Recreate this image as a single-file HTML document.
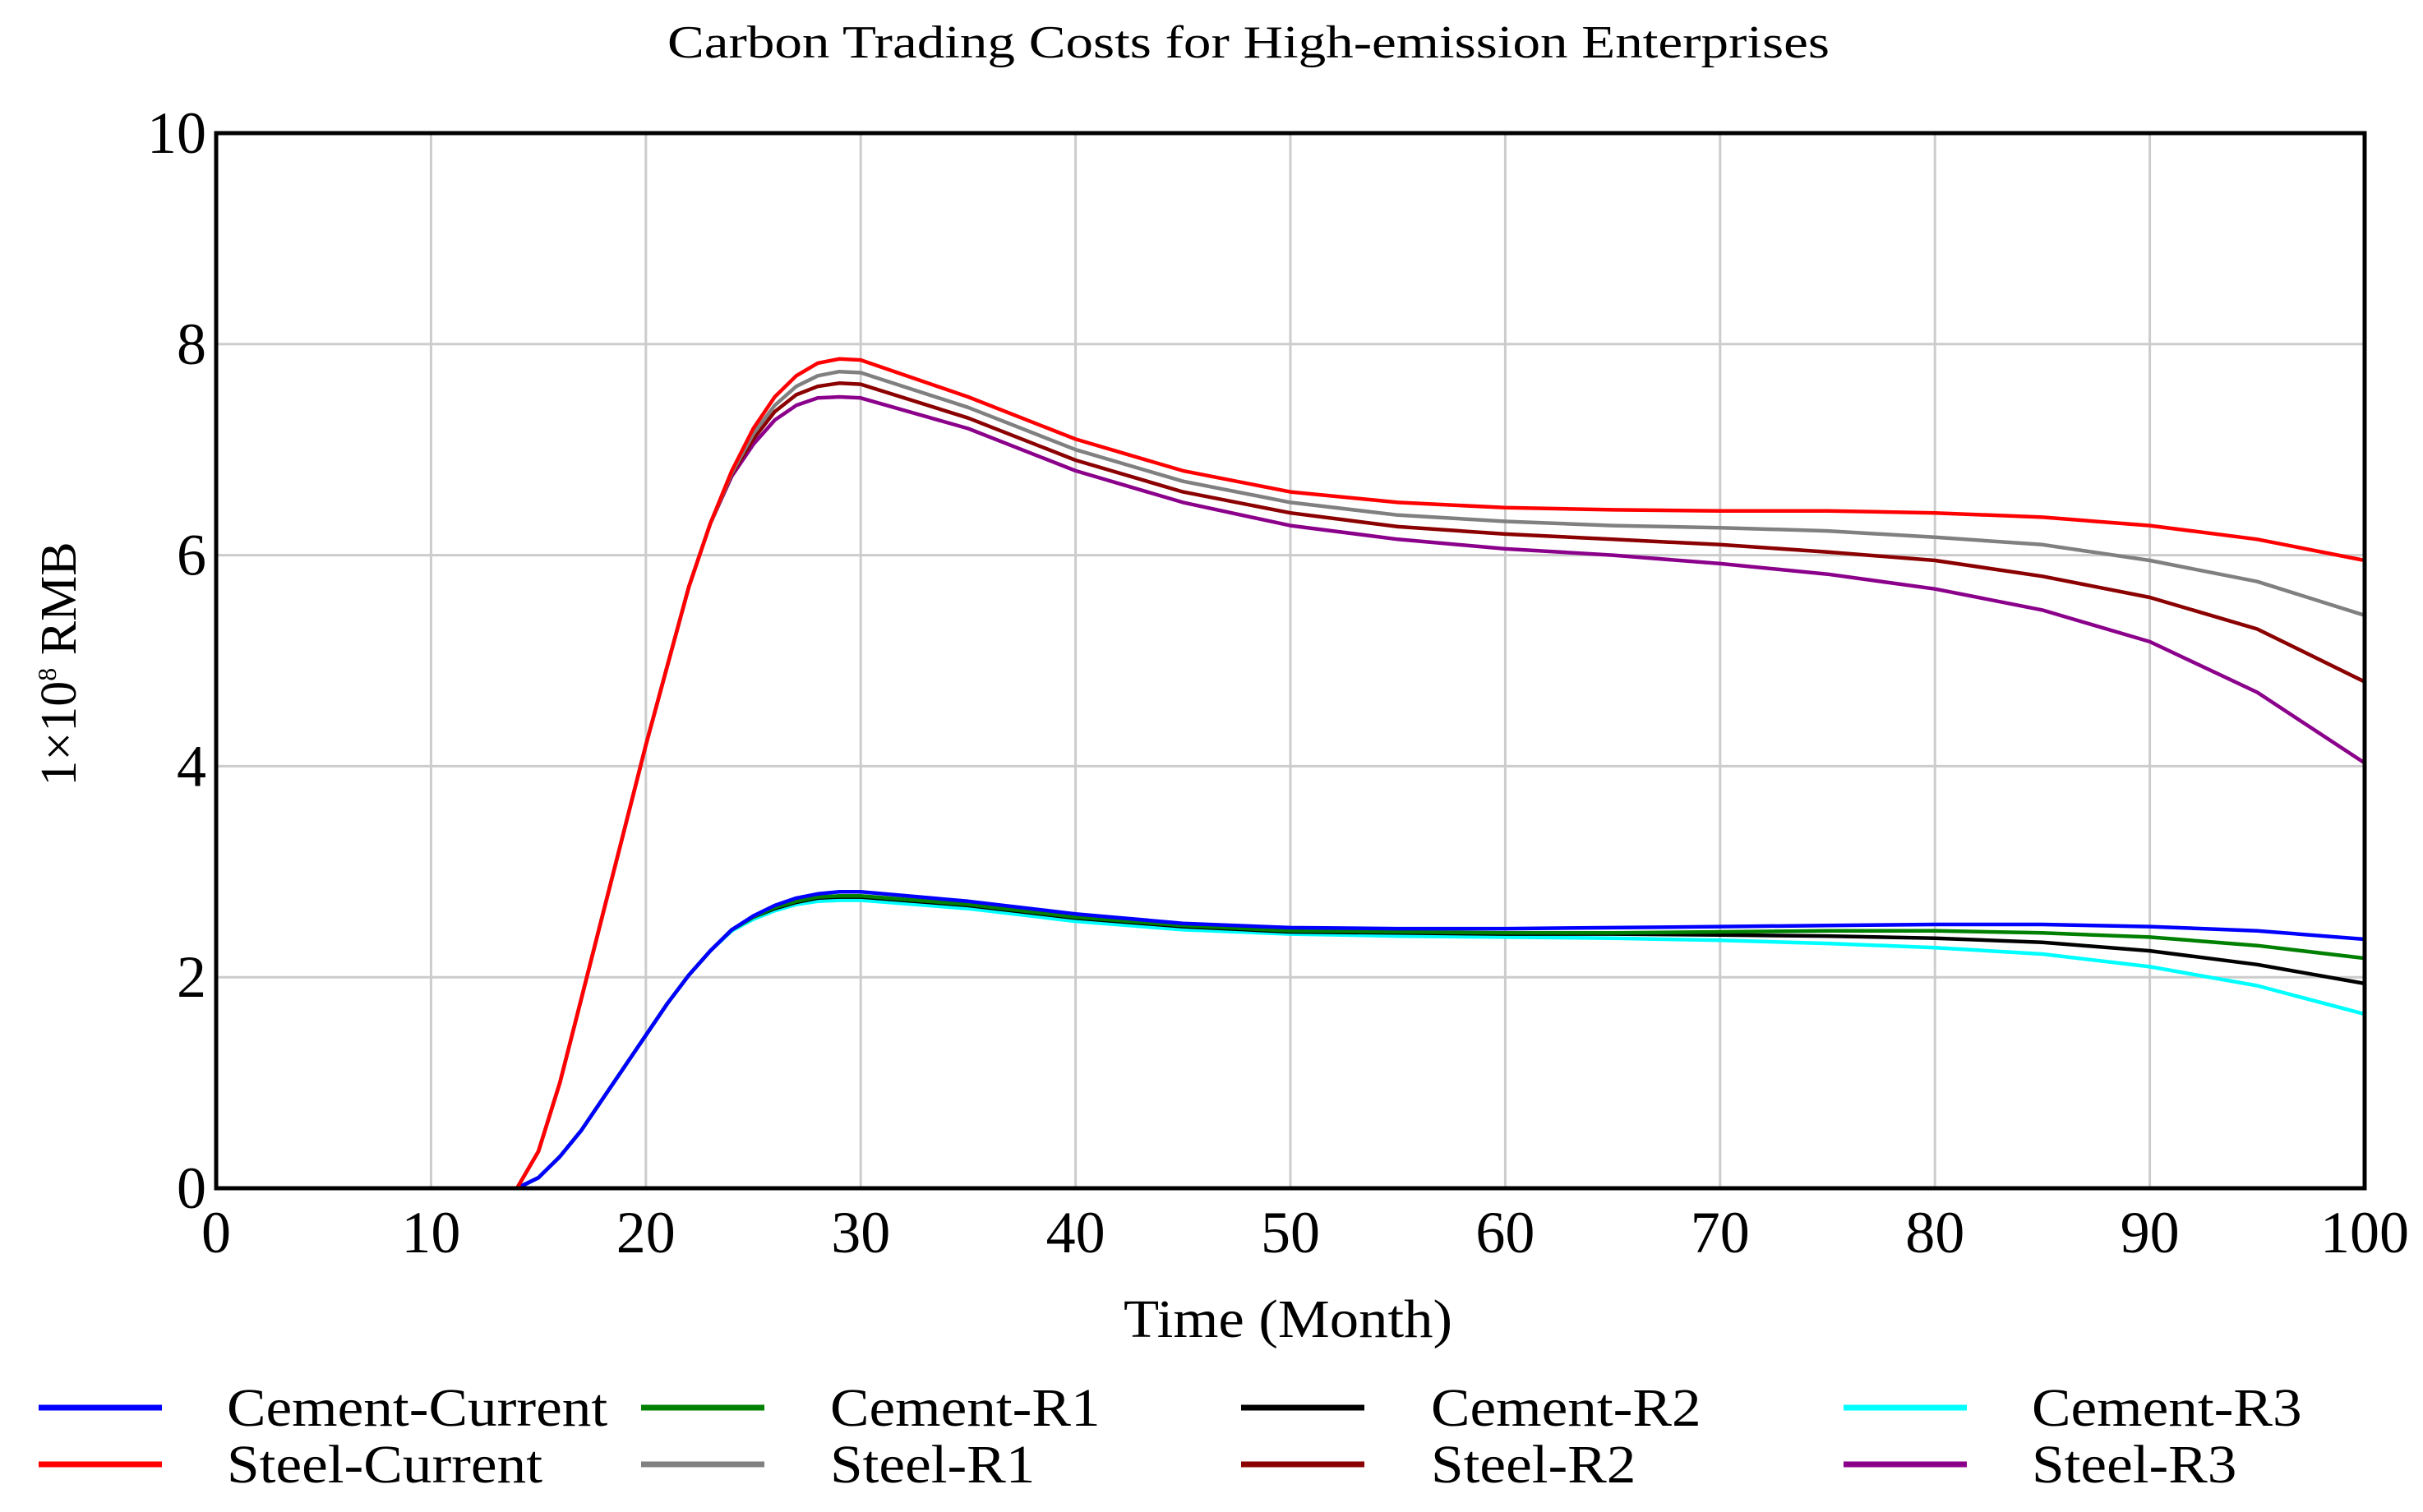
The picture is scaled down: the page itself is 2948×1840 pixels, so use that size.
<!DOCTYPE html>
<html><head><meta charset="utf-8"><style>
html,body{margin:0;padding:0;background:#fff;}
svg{display:block;font-family:"Liberation Serif",serif;}
</style></head><body>
<svg id="chart" width="2948" height="1840" viewBox="0 0 2948 1840" xmlns="http://www.w3.org/2000/svg">
<text x="1519" y="70" font-size="56" text-anchor="middle" textLength="1414" lengthAdjust="spacingAndGlyphs">Carbon Trading Costs for High-emission Enterprises</text>
<g id="grid"></g>
<g id="series"></g>
<rect x="263" y="162" width="2614" height="1284" fill="none" stroke="#000" stroke-width="5"/>
<g id="ticks"></g>
<text x="1567" y="1627" font-size="66" text-anchor="middle" textLength="400" lengthAdjust="spacingAndGlyphs">Time (Month)</text>
<text transform="translate(92,808) rotate(-90)" font-size="62" text-anchor="middle">1×10<tspan font-size="32" dy="-24">8</tspan><tspan dy="24"> RMB</tspan></text>
<g id="legend"></g>
</svg>
<script>
const months = [0,14,15,16,17,18,19,20,21,22,23,24,25,26,27,28,29,30,35,40,45,50,55,60,65,70,75,80,85,90,95,100];
const seriesNames = ["Cement-Current","Cement-R1","Cement-R2","Cement-R3","Steel-Current","Steel-R1","Steel-R2","Steel-R3"];
const seriesColors = ["#0000ff","#008000","#000000","#00ffff","#ff0000","#808080","#8b0000","#8b008b"];
const cementCurrent = [0,0,0.1,0.3,0.55,0.85,1.15,1.45,1.75,2.02,2.25,2.45,2.58,2.68,2.75,2.79,2.81,2.81,2.72,2.6,2.51,2.47,2.46,2.46,2.47,2.48,2.49,2.5,2.5,2.48,2.44,2.36];
const cementR1 = [0,0,0.1,0.3,0.55,0.85,1.15,1.45,1.75,2.02,2.25,2.45,2.57,2.66,2.72,2.76,2.77,2.77,2.69,2.57,2.49,2.44,2.43,2.42,2.42,2.43,2.44,2.44,2.42,2.38,2.3,2.18];
const cementR2 = [0,0,0.1,0.3,0.55,0.85,1.15,1.45,1.75,2.02,2.25,2.45,2.57,2.65,2.71,2.75,2.76,2.76,2.68,2.56,2.48,2.43,2.42,2.41,2.41,2.4,2.39,2.37,2.33,2.25,2.12,1.94];
const cementR3 = [0,0,0.1,0.3,0.55,0.85,1.15,1.45,1.75,2.02,2.25,2.44,2.55,2.63,2.69,2.72,2.73,2.73,2.65,2.53,2.45,2.41,2.39,2.38,2.37,2.35,2.32,2.28,2.22,2.1,1.92,1.65];
const steelCurrent = [0,0,0.35,1.0,1.8,2.6,3.4,4.2,4.95,5.7,6.3,6.8,7.2,7.5,7.7,7.82,7.86,7.85,7.5,7.1,6.8,6.6,6.5,6.45,6.43,6.42,6.42,6.4,6.36,6.28,6.15,5.95];
const steelR1 = [0,0,0.35,1.0,1.8,2.6,3.4,4.2,4.95,5.7,6.3,6.78,7.15,7.42,7.6,7.7,7.74,7.73,7.4,7.0,6.7,6.5,6.38,6.32,6.28,6.26,6.23,6.17,6.1,5.95,5.75,5.43];
const steelR2 = [0,0,0.35,1.0,1.8,2.6,3.4,4.2,4.95,5.7,6.3,6.77,7.1,7.36,7.52,7.6,7.63,7.62,7.3,6.9,6.6,6.4,6.27,6.2,6.15,6.1,6.03,5.95,5.8,5.6,5.3,4.8];
const steelR3 = [0,0,0.35,1.0,1.8,2.6,3.4,4.2,4.95,5.7,6.3,6.75,7.05,7.28,7.42,7.49,7.5,7.49,7.2,6.8,6.5,6.28,6.15,6.06,6.0,5.92,5.82,5.68,5.48,5.18,4.7,4.03];
const allSeries = [cementCurrent,cementR1,cementR2,cementR3,steelCurrent,steelR1,steelR2,steelR3];
const drawOrder = [7,6,5,3,2,1,0,4];
const xTicks = [0,10,20,30,40,50,60,70,80,90,100];
const yTicks = [0,2,4,6,8,10];

const NS="http://www.w3.org/2000/svg";
const L=263,R=2877,T=162,B=1446;
const xs=v=>L+(v/100)*(R-L);
const ys=v=>B-(v/10)*(B-T);
function mk(tag,attrs,parent){const e=document.createElementNS(NS,tag);for(const k in attrs)e.setAttribute(k,attrs[k]);parent.appendChild(e);return e;}
const grid=document.getElementById('grid'),ticks=document.getElementById('ticks'),ser=document.getElementById('series'),leg=document.getElementById('legend');
xTicks.forEach(t=>{
  const g=mk('line',{x1:xs(t),x2:xs(t),y1:T,y2:B,stroke:'#cccccc','stroke-width':3},grid);
  
  
  const tx=mk('text',{x:xs(t),y:B+78,'font-size':72,'text-anchor':'middle'},ticks);
  tx.textContent=t;
  
  
});
yTicks.forEach(t=>{
  const g=mk('line',{x1:L,x2:R,y1:ys(t),y2:ys(t),stroke:'#cccccc','stroke-width':3},grid);
  
  
  const tx=mk('text',{x:L-12,y:ys(t)+24,'font-size':72,'text-anchor':'end'},ticks);
  tx.textContent=t;
  
  
});
drawOrder.forEach(i=>{
  const vals=allSeries[i];
  const pts=vals.map((v,j)=>xs(months[j]).toFixed(1)+','+ys(v).toFixed(1)).join(' ');
  const p=mk('polyline',{points:pts,fill:'none',stroke:seriesColors[i],'stroke-width':4.5,'stroke-linejoin':'round'},ser);
  
  
});
const colLine=[47,780,1510,2243],colText=[276,1010,1741,2472],rowY=[1713,1782];
seriesNames.forEach((n,i)=>{
  const c=i%4,r=Math.floor(i/4);
  const ln=mk('line',{x1:colLine[c],x2:colLine[c]+150,y1:rowY[r],y2:rowY[r],stroke:seriesColors[i],'stroke-width':7},leg);
  
  
  const tx=mk('text',{x:colText[c],y:rowY[r]+22,'font-size':66},leg);
  tx.textContent=n;
  
  
  const w=tx.getComputedTextLength();
  tx.setAttribute('textLength',(w*1.08).toFixed(1));
  tx.setAttribute('lengthAdjust','spacingAndGlyphs');
});
</script>
</body></html>
